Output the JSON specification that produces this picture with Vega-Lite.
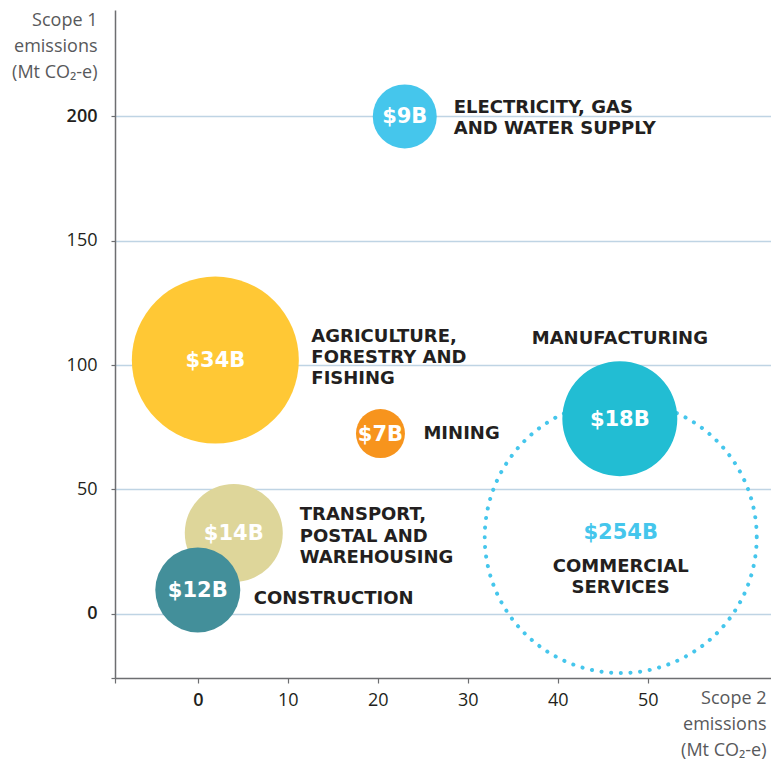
{
  "$schema": "https://vega.github.io/schema/vega-lite/v6.json",
  "width": 656,
  "height": 668,
  "autosize": {"type": "none"},
  "padding": {"left": 115, "top": 10, "right": 0, "bottom": 86},
  "background": "white",
  "config": {"view": {"stroke": null}, "font": "Open Sans"},
  "data": {
    "values": [
      {"key": "comm", "name": "COMMERCIAL\nSERVICES", "label": "$254B", "value": 254, "scope2": 47, "scope1": 30.8},
      {"key": "elec", "name": "ELECTRICITY, GAS\nAND WATER SUPPLY", "label": "$9B", "value": 9, "scope2": 23, "scope1": 200},
      {"key": "agri", "name": "AGRICULTURE,\nFORESTRY AND\nFISHING", "label": "$34B", "value": 34, "scope2": 1.95, "scope1": 102},
      {"key": "mine", "name": "MINING", "label": "$7B", "value": 7, "scope2": 20.3, "scope1": 72.4},
      {"key": "manu", "name": "MANUFACTURING", "label": "$18B", "value": 18, "scope2": 46.9, "scope1": 78.4},
      {"key": "tran", "name": "TRANSPORT,\nPOSTAL AND\nWAREHOUSING", "label": "$14B", "value": 14, "scope2": 4.0, "scope1": 32.4},
      {"key": "cons", "name": "CONSTRUCTION", "label": "$12B", "value": 12, "scope2": 0, "scope1": 9.5}
    ]
  },
  "encoding": {
    "x": {
      "field": "scope2", "type": "quantitative",
      "scale": {"domain": [-9.2, 63.7], "nice": false, "zero": false},
      "axis": {
        "values": [-9.2, 0, 10, 20, 30, 40, 50],
        "grid": false,
        "domainColor": "#6d6e71", "domainWidth": 1.5,
        "tickColor": "#6d6e71", "tickWidth": 1.2, "tickSize": 5,
        "labelFontSize": 18, "labelColor": "#231f20", "labelPadding": 8,
        "labelExpr": "datum.value < -1 ? '' : datum.label",
        "labelFontWeight": {"condition": {"test": "datum.value == 0", "value": 600}, "value": "normal"},
        "title": ["Scope 2", "emissions", "(Mt CO₂-e)"],
        "titleX": 651, "titleY": 11, "titleAlign": "right", "titleBaseline": "top",
        "titleFontSize": 18, "titleFontWeight": "normal", "titleColor": "#58595b", "titleLineHeight": 26
      }
    },
    "y": {
      "field": "scope1", "type": "quantitative",
      "scale": {"domain": [-25.9, 242.8], "nice": false, "zero": false},
      "axis": {
        "values": [-25.9, 0, 50, 100, 150, 200],
        "grid": true,
        "gridColor": "#bfd4e4", "gridWidth": 1.5,
        "gridOpacity": {"condition": {"test": "datum.value < -1", "value": 0}, "value": 1},
        "domainColor": "#6d6e71", "domainWidth": 1.5,
        "tickColor": "#6d6e71", "tickWidth": 1.2, "tickSize": 4,
        "labelFontSize": 18, "labelColor": "#231f20", "labelPadding": 14,
        "labelExpr": "datum.value < -1 ? '' : datum.label",
        "labelFontWeight": {"condition": {"test": "datum.value == 0 || datum.value == 200", "value": 600}, "value": "normal"},
        "title": ["Scope 1", "emissions", "(Mt CO₂-e)"],
        "titleAngle": 0, "titleX": -18, "titleY": 1, "titleAlign": "right", "titleBaseline": "top",
        "titleFontSize": 18, "titleFontWeight": "normal", "titleColor": "#58595b", "titleLineHeight": 26
      }
    }
  },
  "layer": [
    {
      "transform": [{"filter": "datum.key == 'comm'"}],
      "mark": {"type": "circle", "filled": false, "stroke": "#45c6ec", "strokeWidth": 4, "strokeDash": [0.1, 9.6], "strokeCap": "round", "opacity": 1},
      "encoding": {
        "size": {"field": "value", "type": "quantitative", "legend": null,
          "scale": {"type": "linear", "domain": [7, 9, 12, 14, 18, 34, 254], "range": [2401, 4096, 7225, 9604, 13225, 27889, 73984]}}
      }
    },
    {
      "transform": [{"filter": "datum.key != 'comm'"}],
      "mark": {"type": "circle", "opacity": 1},
      "encoding": {
        "size": {"field": "value", "type": "quantitative", "legend": null},
        "color": {"field": "key", "type": "nominal", "legend": null,
          "scale": {"domain": ["elec", "agri", "mine", "manu", "tran", "cons"],
                    "range": ["#45c6ec", "#ffc835", "#f7941d", "#22bdd3", "#ded69a", "#438f9a"]}}
      }
    },
    {
      "transform": [{"filter": "datum.key != 'comm'"}],
      "mark": {"type": "text", "font": "DejaVu Sans", "color": "white", "fontSize": 21, "fontWeight": "bold", "align": "center", "baseline": "middle", "dy": 1},
      "encoding": {"text": {"field": "label"}}
    },
    {
      "transform": [{"filter": "datum.key == 'comm'"}],
      "mark": {"type": "text", "font": "DejaVu Sans", "color": "#45c6ec", "fontSize": 21, "fontWeight": "bold", "align": "center", "baseline": "middle", "dy": -4},
      "encoding": {"text": {"field": "label"}}
    },
    {
      "transform": [{"filter": "datum.key == 'elec'"}],
      "mark": {"type": "text", "font": "DejaVu Sans", "color": "#231f20", "fontSize": 18, "fontWeight": "bold", "lineBreak": "\n", "lineHeight": 21, "align": "left", "baseline": "middle", "dx": 49, "dy": -8},
      "encoding": {"text": {"field": "name"}}
    },
    {
      "transform": [{"filter": "datum.key == 'agri'"}],
      "mark": {"type": "text", "font": "DejaVu Sans", "color": "#231f20", "fontSize": 18, "fontWeight": "bold", "lineBreak": "\n", "lineHeight": 21, "align": "left", "baseline": "middle", "dx": 96, "dy": -23},
      "encoding": {"text": {"field": "name"}}
    },
    {
      "transform": [{"filter": "datum.key == 'mine'"}],
      "mark": {"type": "text", "font": "DejaVu Sans", "color": "#231f20", "fontSize": 18, "fontWeight": "bold", "align": "left", "baseline": "middle", "dx": 43, "dy": 0.5},
      "encoding": {"text": {"field": "name"}}
    },
    {
      "transform": [{"filter": "datum.key == 'manu'"}],
      "mark": {"type": "text", "font": "DejaVu Sans", "color": "#231f20", "fontSize": 18, "fontWeight": "bold", "align": "center", "baseline": "middle", "dx": 0, "dy": -80},
      "encoding": {"text": {"field": "name"}}
    },
    {
      "transform": [{"filter": "datum.key == 'comm'"}],
      "mark": {"type": "text", "font": "DejaVu Sans", "color": "#231f20", "fontSize": 18, "fontWeight": "bold", "lineBreak": "\n", "lineHeight": 21, "align": "center", "baseline": "middle", "dx": 0, "dy": 30},
      "encoding": {"text": {"field": "name"}}
    },
    {
      "transform": [{"filter": "datum.key == 'tran'"}],
      "mark": {"type": "text", "font": "DejaVu Sans", "color": "#231f20", "fontSize": 18, "fontWeight": "bold", "lineBreak": "\n", "lineHeight": 21.5, "align": "left", "baseline": "middle", "dx": 66, "dy": -18},
      "encoding": {"text": {"field": "name"}}
    },
    {
      "transform": [{"filter": "datum.key == 'cons'"}],
      "mark": {"type": "text", "font": "DejaVu Sans", "color": "#231f20", "fontSize": 18, "fontWeight": "bold", "align": "left", "baseline": "middle", "dx": 56, "dy": 9},
      "encoding": {"text": {"field": "name"}}
    }
  ]
}
